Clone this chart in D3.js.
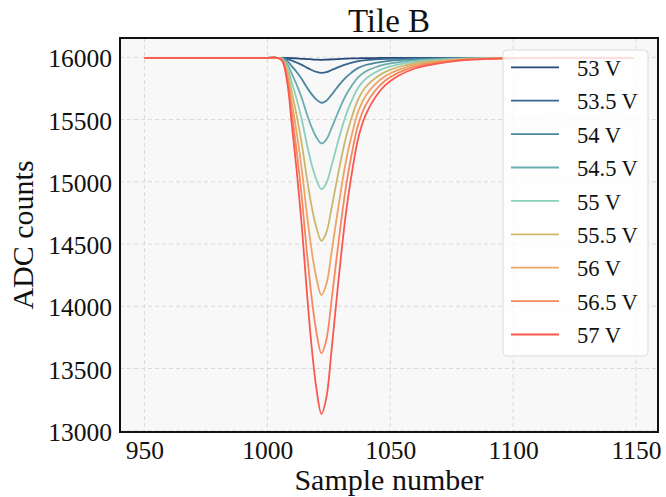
<!DOCTYPE html>
<html>
<head>
<meta charset="utf-8">
<script src="https://cdn.jsdelivr.net/npm/d3@7"></script>
<style>
  body { margin: 0; background: #fff; }
  text { font-family: "Liberation Serif", "DejaVu Serif", serif; fill: #111; }
</style>
</head>
<body>
<div id="chart"></div>
<script>
// canvas size and plot box
const width = 666
const height = 497
const margin = { top: 38, right: 8, bottom: 65, left: 120 }

// data
const samples = [950, 1000, 1004, 1006, 1008, 1010, 1012, 1014, 1016, 1018, 1020, 1022, 1024, 1026, 1028,
  1030, 1032, 1034, 1037, 1040, 1044, 1048, 1053, 1060, 1068, 1078, 1090, 1105, 1149];

const v53 = [15996, 15996, 15996, 15996, 15995, 15993, 15991, 15988, 15986, 15983, 15981, 15980, 15981, 15983, 15985,
  15987, 15989, 15991, 15992, 15994, 15994, 15995, 15995, 15996, 15996, 15996, 15996, 15996, 15996];
const v53_5 = [15996, 15996, 15996, 15995, 15988, 15973, 15957, 15939, 15917, 15898, 15883, 15875, 15880, 15896, 15913,
  15929, 15943, 15955, 15969, 15977, 15983, 15987, 15990, 15992, 15994, 15995, 15996, 15996, 15996];
const v54 = [15996, 15996, 15996, 15993, 15973, 15927, 15880, 15826, 15761, 15704, 15660, 15635, 15651, 15696, 15747,
  15796, 15839, 15873, 15915, 15938, 15956, 15968, 15977, 15985, 15990, 15993, 15995, 15996, 15996];
const v54_5 = [15996, 15996, 15996, 15990, 15951, 15865, 15776, 15673, 15549, 15439, 15356, 15308, 15339, 15425, 15521,
  15614, 15697, 15762, 15841, 15886, 15920, 15943, 15960, 15975, 15984, 15990, 15994, 15995, 15996];
const v55 = [15996, 15996, 15996, 15988, 15927, 15795, 15658, 15500, 15310, 15141, 15014, 14940, 14988, 15120, 15267,
  15410, 15537, 15637, 15758, 15827, 15880, 15915, 15941, 15964, 15977, 15988, 15993, 15995, 15996];
const v55_5 = [15996, 15996, 15996, 15984, 15900, 15717, 15526, 15305, 15040, 14805, 14629, 14526, 14592, 14776, 14982,
  15180, 15357, 15496, 15665, 15761, 15834, 15883, 15920, 15952, 15970, 15984, 15992, 15995, 15996];
const v56 = [15996, 15996, 15996, 15981, 15872, 15634, 15386, 15100, 14757, 14452, 14223, 14090, 14176, 14414, 14681,
  14938, 15167, 15348, 15567, 15691, 15786, 15849, 15897, 15939, 15962, 15981, 15990, 15994, 15996];
const v56_5 = [15996, 15996, 15996, 15977, 15842, 15545, 15236, 14880, 14453, 14073, 13788, 13622, 13729, 14026, 14358,
  14678, 14963, 15189, 15462, 15616, 15735, 15813, 15873, 15925, 15953, 15977, 15989, 15994, 15996];
const v57 = [15996, 15996, 15996, 15973, 15810, 15452, 15080, 14651, 14136, 13679, 13335, 13135, 13264, 13621, 14022,
  14408, 14751, 15023, 15352, 15538, 15681, 15776, 15847, 15910, 15945, 15973, 15987, 15993, 15996];

const labels = ["53 V", "53.5 V", "54 V", "54.5 V", "55 V", "55.5 V", "56 V", "56.5 V", "57 V"];
const colors = ["#25477a", "#37668f", "#4b879f", "#6badaf", "#8ccfbe", "#cbb86b", "#eda466", "#f6875f", "#f8584f"];
const xTicks = [950, 1000, 1050, 1100, 1150];
const yTicks = [13000, 13500, 14000, 14500, 15000, 15500, 16000];

const seriesValues = [v53, v53_5, v54, v54_5, v55, v55_5, v56, v56_5, v57];
const series = labels.map((name, i) => ({
  name: name,
  color: colors[i],
  points: samples.map((s, j) => ({ s: s, v: seriesValues[i][j] }))
}));

const svg = d3.select("#chart")
  .append("svg")
  .attr("width", width)
  .attr("height", height)

const x = d3.scaleLinear()
  .domain([940.05, 1158.95])
  .range([margin.left, width - margin.right])
const y = d3.scaleLinear()
  .domain([12990, 16155])
  .range([height - margin.bottom, margin.top])

// plot background
svg.append("rect")
  .attr("x", margin.left).attr("y", margin.top)
  .attr("width", width - margin.right - margin.left)
  .attr("height", height - margin.bottom - margin.top)
  .attr("fill", "#f8f8f8")

// dashed grid
const grid = svg.append("g").attr("stroke", "#d6d6d6").attr("stroke-width", 0.9).attr("stroke-dasharray", "4,3")
grid.selectAll(".gx").data(xTicks).join("line")
  .attr("x1", d => x(d)).attr("x2", d => x(d))
  .attr("y1", margin.top).attr("y2", height - margin.bottom)
grid.selectAll(".gy").data(yTicks).join("line")
  .attr("x1", margin.left).attr("x2", width - margin.right)
  .attr("y1", d => y(d)).attr("y2", d => y(d))

// the curves
const line = d3.line()
  .x(d => x(d.s))
  .y(d => y(d.v))
  .curve(d3.curveCatmullRom.alpha(0.5))

svg.append("g").selectAll("path")
  .data(series)
  .join("path")
  .attr("d", d => line(d.points))
  .attr("fill", "none")
  .attr("stroke", d => d.color)
  .attr("stroke-width", 1.8)

// axes
const xAxis = svg.append("g")
  .attr("transform", `translate(0,${height - margin.bottom})`)
  .call(d3.axisBottom(x).tickValues(xTicks).tickFormat(d3.format("d")).tickSize(0).tickPadding(0))
xAxis.select(".domain").remove()
xAxis.selectAll("text")
  .attr("y", 27).attr("dy", null)
  .style("font-size", "25.5px")
  .style("font-family", "'Liberation Serif', serif")
  .attr("fill", "#111")

const yAxis = svg.append("g")
  .attr("transform", `translate(${margin.left},0)`)
  .call(d3.axisLeft(y).tickValues(yTicks).tickFormat(d3.format("d")).tickSize(0).tickPadding(0))
yAxis.select(".domain").remove()
yAxis.selectAll("text")
  .attr("x", -8).attr("dy", "9.5px")
  .style("font-size", "25.5px")
  .style("font-family", "'Liberation Serif', serif")
  .attr("fill", "#111")

// frame
svg.append("rect")
  .attr("x", margin.left).attr("y", margin.top)
  .attr("width", width - margin.right - margin.left)
  .attr("height", height - margin.bottom - margin.top)
  .attr("fill", "none")
  .attr("stroke", "#111")
  .attr("stroke-width", 2)

// title and labels
svg.append("text")
  .attr("x", (margin.left + width - margin.right) / 2)
  .attr("y", 31.5)
  .attr("text-anchor", "middle")
  .style("font-size", "33px")
  .text("Tile B")

svg.append("text")
  .attr("x", (margin.left + width - margin.right) / 2)
  .attr("y", 490)
  .attr("text-anchor", "middle")
  .style("font-size", "30px")
  .text("Sample number")

svg.append("text")
  .attr("transform", `translate(33,${(margin.top + height - margin.bottom) / 2}) rotate(-90)`)
  .attr("text-anchor", "middle")
  .style("font-size", "30px")
  .text("ADC counts")

// legend
const legend = svg.append("g")
legend.append("rect")
  .attr("x", 503).attr("y", 50)
  .attr("width", 145).attr("height", 306)
  .attr("rx", 4)
  .attr("fill", "#fff").attr("fill-opacity", 0.8)
  .attr("stroke", "#dcdcdc").attr("stroke-width", 1)

const rows = legend.selectAll(".row")
  .data(series)
  .join("g")
  .attr("transform", (d, i) => `translate(0,${67.3 + i * 33.4})`)
rows.append("line")
  .attr("x1", 511).attr("x2", 559)
  .attr("stroke", d => d.color)
  .attr("stroke-width", 1.8)
rows.append("text")
  .attr("x", 577).attr("y", 8.7)
  .style("font-size", "22.5px")
  .text(d => d.name)
</script>
</body>
</html>
